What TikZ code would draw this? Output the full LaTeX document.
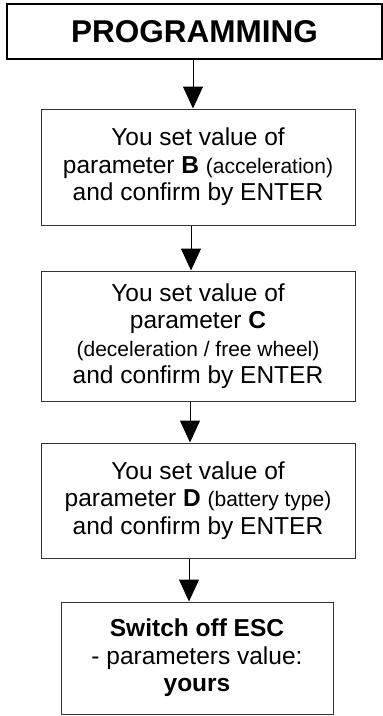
\documentclass[tikz,border=0pt]{standalone}
\usepackage{fontspec}
\setmainfont{Liberation Sans}
\usetikzlibrary{arrows.meta}
\begin{document}
\begin{tikzpicture}[x=1pt,y=-1pt,
  box/.style={draw=black!80, line width=1pt, align=center, inner sep=0pt,
    font=\fontsize{24.5}{27.5}\selectfont, text=black},
  head/.style={draw=black, line width=2pt, inner sep=0pt,
    font=\fontsize{31.5}{34}\selectfont\bfseries},
  arr/.style={draw=black, line width=1pt, -{Triangle[length=22pt,width=20pt]}},
  sm/.style={font=\fontsize{21}{27.5}\selectfont}]
\useasboundingbox (0,0) rectangle (383,716);
\node[head, minimum width=375pt, minimum height=55pt] (prog) at (194.5,31.5) {PROGRAMMING};
\node[box, minimum width=314pt, minimum height=116pt] (b) at (198,167)
  {You set value of\\parameter \textbf{B} {\fontsize{21}{27.5}\selectfont(acceleration)}\\and confirm by ENTER};
\node[box, minimum width=314pt, minimum height=130pt] (c) at (198,336)
  {You set value of\\parameter \textbf{C}\\{\fontsize{21}{27.5}\selectfont(deceleration / free wheel)}\\and confirm by ENTER};
\node[box, minimum width=314pt, minimum height=115pt] (d) at (198,500.5)
  {You set value of\\parameter \textbf{D} {\fontsize{21}{27.5}\selectfont(battery type)}\\and confirm by ENTER};
\node[box, minimum width=272pt, minimum height=112pt] (e) at (197,658)
  {\textbf{Switch off ESC}\\- parameters value:\\\textbf{yours}};
\coordinate (a1) at (193,0);
\coordinate (a2) at (191,0);
\coordinate (a3) at (190,0);
\coordinate (a4) at (189,0);
\draw[arr] (prog.south -| a1) -- (b.north -| a1);
\draw[arr] (b.south -| a2) -- (c.north -| a2);
\draw[arr] (c.south -| a3) -- (d.north -| a3);
\draw[arr] (d.south -| a4) -- (e.north -| a4);
\end{tikzpicture}
\end{document}
